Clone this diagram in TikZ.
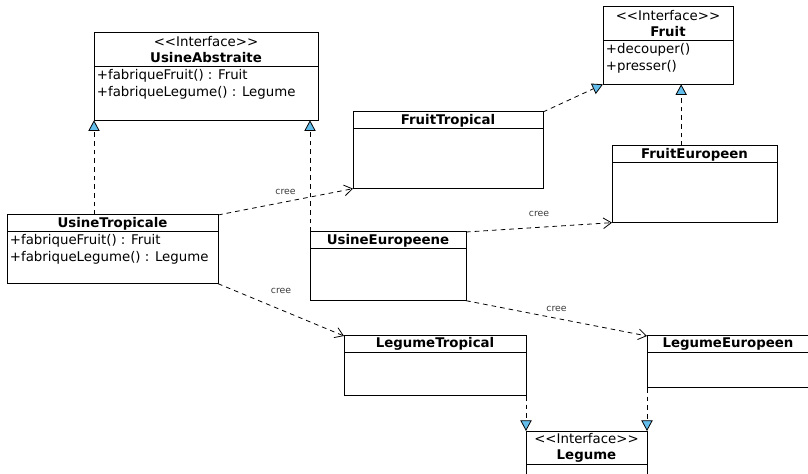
\documentclass[tikz,border=0pt]{standalone}
\usepackage{fontspec}
\setmainfont{DejaVu Sans}[Ligatures=TeXOff]
\usepackage{tikz}
\usepackage{xcolor}
\definecolor{umlblue}{RGB}{100,190,235}
\definecolor{labelgray}{RGB}{60,60,60}
\usetikzlibrary{arrows.meta,positioning}

\begin{document}
\begin{tikzpicture}[x=0.75pt, y=-0.75pt,
        hdr/.style={rectangle, draw=black, fill=white, line width=0.75pt,
                    anchor=north west, inner sep=0pt, outer sep=0pt, align=center,
                    minimum height=12.5pt, font=\fontsize{10}{12}\selectfont},
        bodybox/.style={rectangle, draw=black, fill=white, line width=0.75pt,
                        inner sep=0pt, outer sep=0pt},
        attr/.style={anchor=north west, inner sep=2pt, align=left,
                     font=\fontsize{10}{12.75}\selectfont},
        impl/.style={line width=0.6pt, dash pattern=on 3.5pt off 3pt,
                     -{Triangle[width=8.5pt, length=8pt, fill=umlblue]}},
        cree/.style={line width=0.6pt, dash pattern=on 3.5pt off 3pt,
                     -{Straight Barb[width=8pt, length=6pt]}},
        lbl/.style={font=\fontsize{7}{8}\selectfont, text=labelgray, inner sep=1pt}
    ]
        \useasboundingbox (0,0) rectangle (808,474);
        \clip (0,0) rectangle (808,474);

        % interfaces
        \node[hdr, minimum width=168pt, minimum height=25pt] (ua) at (94,33)
              {<<Interface>>\\\textbf{UsineAbstraite}};
        \node[bodybox, below=0pt of ua, minimum width=168pt, minimum height=40.5pt] (uab) {};
        \node[attr] (uaa) at (uab.north west) {+fabriqueFruit() : Fruit\\+fabriqueLegume() : Legume};

        \node[hdr, minimum width=97.5pt, minimum height=25pt] (fr) at (603,7)
              {<<Interface>>\\\textbf{Fruit}};
        \node[bodybox, below=0pt of fr, minimum width=97.5pt, minimum height=33pt] (frb) {};
        \node[attr] (fra) at (frb.north west) {+decouper()\\+presser()};

        \node[hdr, minimum width=90.75pt, minimum height=25pt] (lg) at (526,431)
              {<<Interface>>\\\textbf{Legume}};
        \node[bodybox, below=0pt of lg, minimum width=90.75pt, minimum height=30pt] (lgb) {};

        % factories
        \node[hdr, minimum width=158.25pt] (ut) at (7,215) {\textbf{UsineTropicale}};
        \node[bodybox, below=0pt of ut, minimum width=158.25pt, minimum height=39pt] (utb) {};
        \node[attr] (uta) at (utb.north west) {+fabriqueFruit() : Fruit\\+fabriqueLegume() : Legume};

        \node[hdr, minimum width=117pt] (ue) at (310,232) {\textbf{UsineEuropeene}};
        \node[bodybox, below=0pt of ue, minimum width=117pt, minimum height=39pt] (ueb) {};

        % products
        \node[hdr, minimum width=142.5pt] (ft) at (353,112) {\textbf{FruitTropical}};
        \node[bodybox, below=0pt of ft, minimum width=142.5pt, minimum height=45pt] (ftb) {};

        \node[hdr, minimum width=123.75pt] (fe) at (612,146) {\textbf{FruitEuropeen}};
        \node[bodybox, below=0pt of fe, minimum width=123.75pt, minimum height=45pt] (feb) {};

        \node[hdr, minimum width=136.5pt] (lt) at (344,336) {\textbf{LegumeTropical}};
        \node[bodybox, below=0pt of lt, minimum width=136.5pt, minimum height=32.5pt] (ltb) {};

        \node[hdr, minimum width=121.5pt] (le) at (647,336) {\textbf{LegumeEuropeen}};
        \node[bodybox, below=0pt of le, minimum width=121.5pt, minimum height=26.5pt] (leb) {};

        % realisations
        \draw[impl] (ut.north -| uab.south west) -- (uab.south west);
        \draw[impl] (ue.north west) -- (ue.north west |- uab.south);
        \draw[impl] (ft.north east) -- (frb.south west);
        \draw[impl] ([xshift=-10pt]fe.north) -- ([xshift=-10pt]fe.north |- frb.south);
        \draw[impl] (ltb.south east) -- (lg.north west);
        \draw[impl] (leb.south west) -- (lg.north east);

        % cree
        \draw[cree] (ut.north east) -- node[lbl, above=4pt] {cree} (ftb.south west);
        \draw[cree] (utb.south east) -- node[lbl, above=11pt] {cree} (lt.north west);
        \draw[cree] (ue.north east) -- node[lbl, above=7pt] {cree} (feb.south west);
        \draw[cree] (ueb.south east) -- node[lbl, above=4pt] {cree} (le.north west);
    \end{tikzpicture}
\end{document}
